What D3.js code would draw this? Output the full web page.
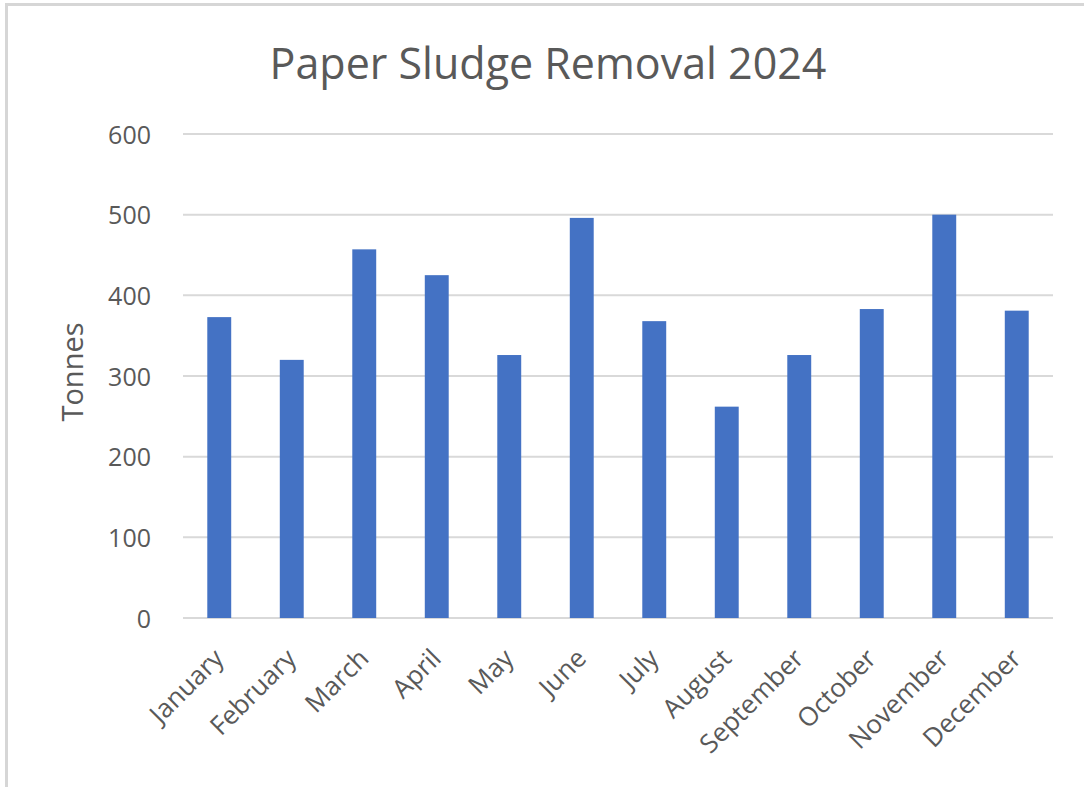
<!DOCTYPE html>
<html>
<head>
<meta charset="utf-8">
<script src="https://cdn.jsdelivr.net/npm/d3@7"></script>
<style>
  html, body { margin: 0; padding: 0; background: #fff; }
  svg { display: block; }
  text { font-family: "Open Sans", "Noto Sans", sans-serif; fill: #595959; }
</style>
</head>
<body>
<svg id="chart" width="1084" height="787"></svg>
<script>
// Monthly removal totals (tonnes)
const months = ["January", "February", "March", "April", "May", "June",
                "July", "August", "September", "October", "November", "December"];
const tonnes = [373, 320, 457, 425, 326, 496, 368, 262, 326, 383, 500, 381];
const yTicks = [0, 100, 200, 300, 400, 500, 600];
const title = "Paper Sludge Removal 2024";
const yTitle = "Tonnes";

const svg = d3.select("#chart");
const W = 1084, H = 787;
const FONT = "'Open Sans', 'Noto Sans', sans-serif";

// frame edges (top and left)
svg.append("line")
  .attr("x1", 5).attr("x2", W).attr("y1", 4.5).attr("y2", 4.5)
  .attr("stroke", "#d6d6d6").attr("stroke-width", 3);
svg.append("line")
  .attr("x1", 6.5).attr("x2", 6.5).attr("y1", 3).attr("y2", H)
  .attr("stroke", "#d6d6d6").attr("stroke-width", 3);

const plot = { left: 183, right: 1053, top: 134, bottom: 618 };

const x = d3.scaleBand()
  .domain(months)
  .range([plot.left, plot.right])
  .paddingInner(0.67)
  .paddingOuter(0.335);

const y = d3.scaleLinear()
  .domain([0, 600])
  .range([plot.bottom, plot.top]);

// horizontal gridlines
svg.append("g")
  .selectAll("line")
  .data(yTicks)
  .join("line")
  .attr("x1", plot.left).attr("x2", plot.right)
  .attr("y1", d => y(d)).attr("y2", d => y(d))
  .attr("stroke", "#d9d9d9")
  .attr("stroke-width", 2);

// bars
svg.append("g")
  .selectAll("rect")
  .data(months)
  .join("rect")
  .attr("x", d => x(d))
  .attr("width", x.bandwidth())
  .attr("y", (d, i) => y(tonnes[i]))
  .attr("height", (d, i) => y(0) - y(tonnes[i]))
  .attr("fill", "#4472c4");

// y axis labels
const yAxis = svg.append("g")
  .attr("transform", `translate(${plot.left - 32},0)`)
  .call(d3.axisLeft(y).tickValues(yTicks).tickSize(0).tickPadding(0));
yAxis.select(".domain").remove();
yAxis.selectAll("text")
  .attr("font-size", 25)
  .attr("fill", "#595959")
  .attr("font-family", FONT)
  .attr("dy", "0.36em");

// x axis labels, rotated
const xAxis = svg.append("g")
  .attr("transform", `translate(0,${plot.bottom})`)
  .call(d3.axisBottom(x).tickSize(0).tickPadding(0));
xAxis.select(".domain").remove();
xAxis.selectAll("text")
  .attr("font-size", 26)
  .attr("fill", "#595959")
  .attr("font-family", FONT)
  .attr("text-anchor", "end")
  .attr("dy", "0")
  .attr("transform", "translate(6,42) rotate(-45)");

// axis title
svg.append("text")
  .attr("transform", "translate(83,372) rotate(-90)")
  .attr("text-anchor", "middle")
  .attr("font-size", 29)
  .text(yTitle);

// chart title
svg.append("text")
  .attr("x", 548).attr("y", 79)
  .attr("text-anchor", "middle")
  .attr("font-size", 43)
  .text(title);
</script>
</body>
</html>
